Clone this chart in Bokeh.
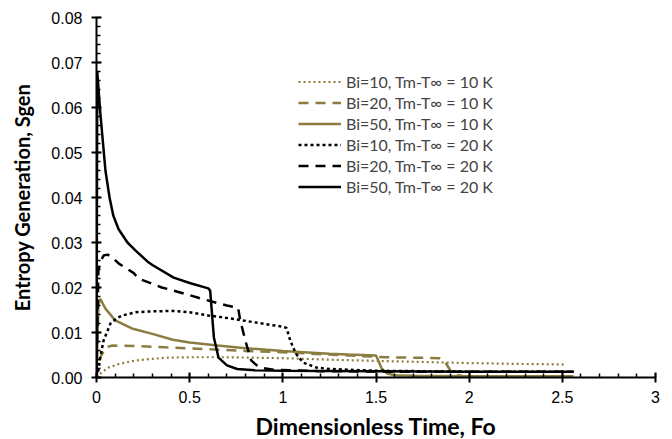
from bokeh.plotting import figure
from bokeh.models import Range1d, Legend, LegendItem, FixedTicker, CustomJSTickFormatter
from bokeh.embed import file_html
from bokeh.resources import INLINE

GOLD = "#8b7d40"

# Bi=50, Tm-T∞ = 20 K (black solid)
x_b50_20 = [0, 0.004, 0.02, 0.048, 0.07, 0.09, 0.118, 0.166, 0.21, 0.273, 0.30, 0.414, 0.50, 0.60, 0.61, 0.63, 0.655, 0.70, 0.755, 0.85, 1.0, 1.5, 2.0, 2.56]
y_b50_20 = [0, 0.068, 0.059, 0.046, 0.040, 0.036, 0.033, 0.0300, 0.0282, 0.0258, 0.0250, 0.0222, 0.0210, 0.0198, 0.0193, 0.0089, 0.0044, 0.0027, 0.0019, 0.0016, 0.0015, 0.0014, 0.0013, 0.0013]

# Bi=20, Tm-T∞ = 20 K (black dashed)
x_b20_20 = [0, 0.01, 0.025, 0.038, 0.06, 0.09, 0.12, 0.2, 0.225, 0.35, 0.38, 0.5, 0.59, 0.70, 0.76, 0.77, 0.80, 0.83, 0.86, 0.89, 0.95, 1.2, 1.6, 2.0, 2.56]
y_b20_20 = [0, 0.0238, 0.026, 0.0271, 0.0273, 0.0265, 0.0253, 0.0232, 0.0220, 0.0200, 0.0197, 0.0183, 0.0172, 0.0160, 0.0155, 0.0130, 0.0080, 0.0038, 0.0027, 0.0021, 0.0017, 0.0014, 0.0013, 0.0013, 0.0013]

# Bi=10, Tm-T∞ = 20 K (black dotted)
x_b10_20 = [0, 0.01, 0.02, 0.038, 0.075, 0.11, 0.14, 0.21, 0.30, 0.41, 0.50, 0.6, 0.74, 0.9, 1.0, 1.02, 1.04, 1.07, 1.11, 1.18, 1.25, 1.5, 2.0, 2.56]
y_b10_20 = [0, 0.0016, 0.0045, 0.0082, 0.0120, 0.0132, 0.0138, 0.0145, 0.0147, 0.0148, 0.0145, 0.0138, 0.0130, 0.0119, 0.0113, 0.0110, 0.0082, 0.0053, 0.0033, 0.0022, 0.0019, 0.0015, 0.0013, 0.0013]

# Bi=50, Tm-T∞ = 10 K (gold solid)
x_b50_10 = [0, 0.01, 0.02, 0.048, 0.1, 0.19, 0.3, 0.41, 0.5, 0.65, 0.8, 1.0, 1.25, 1.35, 1.5, 1.51, 1.53, 1.56, 1.6, 1.7, 2.0, 2.56]
y_b50_10 = [0, 0.0160, 0.0175, 0.0153, 0.0127, 0.0109, 0.0097, 0.0084, 0.0078, 0.0071, 0.0065, 0.0059, 0.0053, 0.0051, 0.0049, 0.0040, 0.0020, 0.0009, 0.0005, 0.0004, 0.0003, 0.0003]

# Bi=20, Tm-T∞ = 10 K (gold dashed)
x_b20_10 = [0, 0.01, 0.02, 0.048, 0.086, 0.2, 0.37, 0.6, 0.8, 1.0, 1.25, 1.55, 1.7, 1.84, 1.87, 1.90, 1.93, 1.97, 2.56]
y_b20_10 = [0, 0.0025, 0.0044, 0.0067, 0.0071, 0.0070, 0.0067, 0.0063, 0.0059, 0.0056, 0.0051, 0.0045, 0.0044, 0.0043, 0.0035, 0.0015, 0.0006, 0.0003, 0.0003]

# Bi=10, Tm-T∞ = 10 K (gold dotted)
x_b10_10 = [0, 0.01, 0.03, 0.064, 0.12, 0.21, 0.37, 0.5, 0.7, 1.0, 1.3, 1.6, 1.8, 2.0, 2.3, 2.5, 2.52]
y_b10_10 = [0, 0.0004, 0.0012, 0.0022, 0.0030, 0.0038, 0.0044, 0.0045, 0.0045, 0.0043, 0.0039, 0.0036, 0.0034, 0.0032, 0.0030, 0.0029, 0.0025]

labels = ["Bi=10, Tm-T∞ = 10 K", "Bi=20, Tm-T∞ = 10 K", "Bi=50, Tm-T∞ = 10 K",
          "Bi=10, Tm-T∞ = 20 K", "Bi=20, Tm-T∞ = 20 K", "Bi=50, Tm-T∞ = 20 K"]

x_ticks = [0, 0.5, 1, 1.5, 2, 2.5, 3]
y_ticks = [0, 0.01, 0.02, 0.03, 0.04, 0.05, 0.06, 0.07, 0.08]

p = figure(frame_width=559, frame_height=360, output_backend="svg", toolbar_location=None,
           x_range=Range1d(0, 3), y_range=Range1d(0, 0.08),
           min_border_left=96, min_border_right=17, min_border_top=17, min_border_bottom=62)
p.outline_line_color = None
p.xgrid.visible = False
p.ygrid.visible = False
p.background_fill_color = "white"

r1 = p.line(x_b10_10, y_b10_10, line_color=GOLD, line_width=2.2, line_dash="2 3")
r2 = p.line(x_b20_10, y_b20_10, line_color=GOLD, line_width=2.5, line_dash="10 7")
r3 = p.line(x_b50_10, y_b50_10, line_color=GOLD, line_width=2.5)
r4 = p.line(x_b10_20, y_b10_20, line_color="black", line_width=2.5, line_dash="3 3")
r5 = p.line(x_b20_20, y_b20_20, line_color="black", line_width=2.5, line_dash="10 7")
r6 = p.line(x_b50_20, y_b50_20, line_color="black", line_width=2.5)

legend = Legend(items=[LegendItem(label=l, renderers=[r]) for l, r in zip(labels, [r1, r2, r3, r4, r5, r6])],
                location=(202, 180), padding=0, margin=0, spacing=0,
                glyph_width=43, glyph_height=21, label_height=21, label_standoff=5,
                label_text_font="Lato", label_text_font_size="16px",
                border_line_color=None, background_fill_alpha=0)
p.add_layout(legend, "center")

for ax in (p.xaxis[0], p.yaxis[0]):
    ax.axis_line_width = 2
    ax.axis_line_color = "black"
    ax.major_tick_line_width = 2
    ax.minor_tick_line_width = 1.5
    ax.major_tick_in = 5
    ax.major_tick_out = 5
    ax.minor_tick_in = 4
    ax.minor_tick_out = 0
    ax.major_label_text_font = "Liberation Sans"
    ax.major_label_text_font_size = "16px"
    ax.major_label_text_color = "black"
    ax.axis_label_text_font = "Lato"
    ax.axis_label_text_font_style = "bold"
    ax.axis_label_text_color = "black"

p.xaxis.ticker = FixedTicker(ticks=x_ticks, minor_ticks=[i * 0.1 for i in range(31)])
p.yaxis.ticker = FixedTicker(ticks=y_ticks, minor_ticks=[i * 0.002 for i in range(41)])
p.yaxis.formatter = CustomJSTickFormatter(code="return tick.toFixed(2);")
p.xaxis.formatter = CustomJSTickFormatter(code="return String(Math.round(tick*10)/10);")
p.xaxis.axis_label = "Dimensionless Time, Fo"
p.yaxis.axis_label = "Entropy Generation, Sgen"
p.xaxis.axis_label_text_font_size = "23px"
p.yaxis.axis_label_text_font_size = "20px"
p.xaxis.major_label_standoff = 8
p.yaxis.major_label_standoff = 9
p.xaxis.axis_label_standoff = 6
p.yaxis.axis_label_standoff = 14

open("out.html", "w").write(file_html(p, INLINE))
